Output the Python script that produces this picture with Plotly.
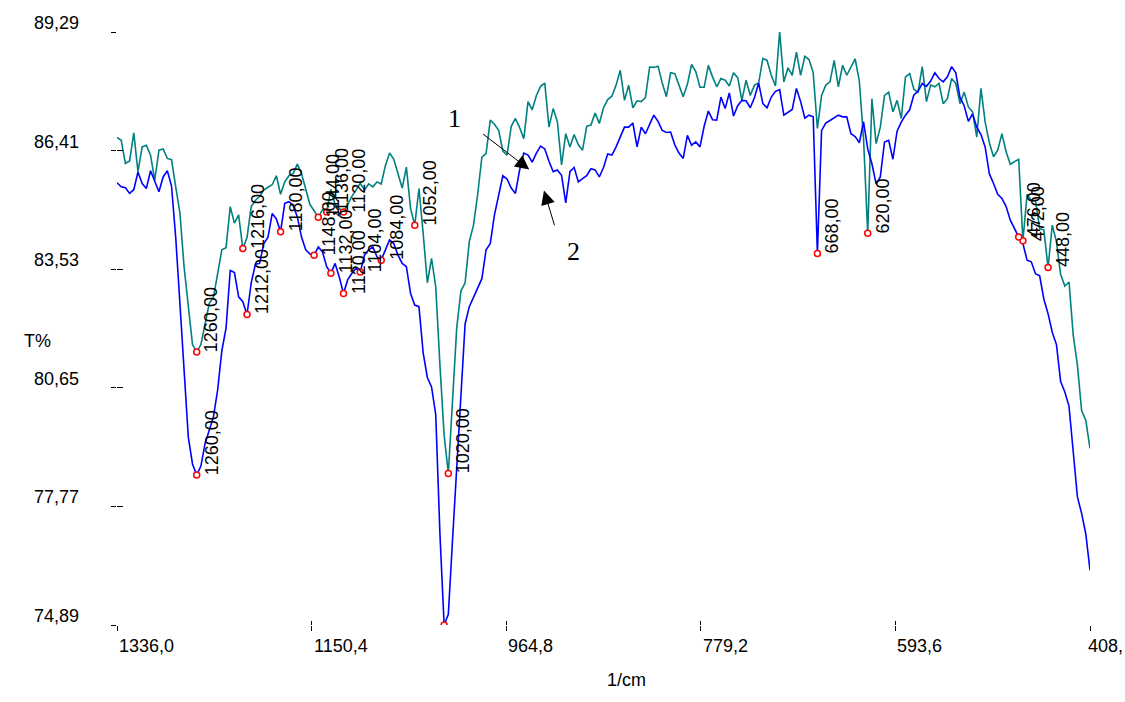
import plotly.graph_objects as go

# Wavenumber grid (1/cm), 4 cm-1 sampling from 1336 down to 408
wavenumber = list(range(1336, 407, -4))

# Spectrum 1 (teal), transmittance in %
t_sample1 = [
    86.73, 86.66, 86.10, 86.16, 86.84, 85.90, 86.50, 86.54, 86.30, 85.69,
    86.42, 86.45, 86.22, 86.19, 85.53, 84.90, 83.58, 82.60, 81.70, 81.52,
    81.70, 82.20, 82.70, 82.85, 83.40, 84.00, 84.05, 85.05, 84.65, 84.85,
    84.03, 84.30, 85.05, 85.20, 85.30, 85.45, 85.52, 85.58, 85.80, 85.35,
    85.65, 85.80, 85.85, 86.08, 85.85, 85.50, 85.10, 84.95, 84.79, 84.97,
    84.92, 85.47, 85.10, 85.00, 84.92, 85.10, 85.30, 85.45, 85.62, 85.45,
    85.60, 85.53, 85.65, 85.60, 86.05, 86.35, 86.20, 85.85, 85.50, 86.01,
    85.00, 84.60, 85.49, 84.40, 83.20, 83.79, 83.10, 81.20, 79.50, 78.57,
    80.30, 82.10, 83.00, 83.20, 84.20, 84.60, 85.35, 86.25, 86.34, 87.15,
    87.05, 86.90, 86.40, 86.30, 87.00, 87.19, 86.97, 86.70, 87.60, 87.40,
    87.75, 87.97, 88.05, 86.98, 87.43, 87.11, 86.06, 86.82, 86.50, 86.80,
    86.55, 86.42, 87.00, 87.03, 87.32, 87.07, 87.45, 87.65, 87.73, 88.00,
    88.36, 87.63, 88.00, 87.45, 87.62, 87.60, 87.70, 88.44, 88.43, 88.46,
    88.05, 87.72, 88.30, 88.28, 88.00, 87.72, 88.02, 88.50, 88.33, 87.95,
    87.95, 88.48, 88.20, 87.96, 88.16, 88.12, 87.98, 88.30, 88.18, 87.63,
    88.12, 87.75, 88.00, 88.05, 88.65, 88.60, 88.24, 87.98, 89.29, 88.08,
    88.42, 88.24, 88.80, 88.24, 88.70, 88.62, 88.30, 86.95, 87.75, 88.00,
    88.08, 88.60, 87.96, 88.48, 88.24, 88.45, 88.64, 88.10, 86.70, 84.40,
    87.67, 86.58, 86.98, 87.75, 87.83, 87.35, 87.63, 87.19, 88.20, 88.28,
    87.90, 87.83, 88.45, 87.60, 88.00, 87.96, 88.04, 87.55, 87.67, 88.16,
    88.04, 87.55, 87.83, 87.47, 87.35, 86.74, 87.92, 87.10, 86.60, 86.26,
    86.42, 86.82, 86.38, 86.08, 86.15, 86.20, 84.22, 85.35, 85.20, 85.20,
    84.52, 84.48, 83.57, 84.60, 84.20, 83.40, 83.12, 83.22, 81.93, 81.20,
    80.10, 79.86, 79.18,
]

# Spectrum 2 (blue), transmittance in %
t_sample2 = [
    85.63, 85.53, 85.51, 85.37, 85.46, 85.89, 85.61, 85.49, 85.92, 85.65,
    85.41, 85.77, 85.92, 85.55, 84.30, 82.70, 81.10, 79.45, 78.80, 78.53,
    78.75, 79.30, 79.62, 79.95, 80.60, 81.55, 82.10, 83.50, 83.45, 82.86,
    82.74, 82.43, 83.20, 83.65, 83.67, 84.15, 84.31, 84.88, 84.75, 84.44,
    85.13, 85.17, 85.08, 84.80, 84.31, 84.00, 83.90, 83.87, 84.07, 83.95,
    83.59, 83.43, 83.67, 83.34, 82.94, 83.27, 83.43, 83.55, 83.46, 83.87,
    84.00, 84.07, 83.83, 83.75, 84.00, 84.24, 84.15, 83.87, 83.67, 83.59,
    82.94, 82.66, 82.62, 81.50, 80.90, 80.67, 80.00, 77.10, 74.89, 75.15,
    76.95, 78.73, 80.40, 82.20, 82.62, 82.85, 83.05, 83.30, 84.00, 84.15,
    84.85, 85.30, 85.80, 85.72, 85.50, 85.37, 85.94, 86.35, 86.30, 86.13,
    86.35, 86.52, 86.45, 86.15, 85.90, 85.94, 85.81, 85.14, 85.90, 86.00,
    85.65, 85.73, 85.80, 85.97, 85.94, 85.77, 86.00, 86.33, 86.30, 86.50,
    86.75, 86.98, 86.98, 87.08, 86.50, 86.98, 86.82, 87.05, 87.27, 87.12,
    86.90, 86.85, 86.86, 86.55, 86.35, 86.22, 86.78, 86.54, 86.62, 86.50,
    87.00, 87.37, 87.16, 87.15, 87.71, 87.43, 87.81, 87.25, 87.50, 87.63,
    87.62, 87.45, 87.70, 88.05, 87.55, 87.45, 87.71, 87.85, 87.89, 87.27,
    87.35, 87.41, 87.92, 87.60, 87.20, 87.27, 87.23, 83.91, 86.90, 87.08,
    87.14, 87.20, 87.27, 87.23, 87.23, 86.82, 86.75, 86.60, 87.11, 86.45,
    86.09, 85.60, 85.77, 86.62, 86.66, 86.20, 86.88, 87.10, 87.27, 87.40,
    87.76, 87.85, 88.04, 87.97, 88.10, 88.30, 88.16, 88.08, 88.20, 88.45,
    88.30, 87.70, 87.50, 87.12, 87.30, 86.98, 86.80, 86.50, 85.85, 85.61,
    85.35, 85.25, 85.05, 84.72, 84.50, 84.31, 84.15, 83.75, 83.71, 83.42,
    83.37, 82.80, 82.45, 82.00, 81.70, 80.80, 80.55, 80.20, 79.10, 78.00,
    77.60, 77.10, 76.22,
]

assert len(t_sample1) == len(wavenumber) and len(t_sample2) == len(wavenumber)

# Picked peaks (wavenumber) and whether each gets a text label
peaks1 = [1260, 1216, 1144, 1136, 1120, 1052, 1020, 620, 472, 448]
peaks2 = [1260, 1212, 1180, 1148, 1132, 1120, 1104, 1084, 1024, 668, 476]
unlabelled2 = [1024]

# Axis ticks
x_ticks = [1336.0, 1150.4, 964.8, 779.2, 593.6, 408.0]
x_tick_text = ["1336,0", "1150,4", "964,8", "779,2", "593,6", "408,"]
y_ticks = [74.89, 77.77, 80.65, 83.53, 86.41, 89.29]
y_tick_text = ["74,89", "77,77", "80,65", "83,53", "86,41", "89,29"]

TEAL = "#008080"
BLUE = "#0000ff"
FONT = "Liberation Sans, Arial, sans-serif"
SERIF = "Liberation Serif, Times New Roman, serif"

lookup1 = dict(zip(wavenumber, t_sample1))
lookup2 = dict(zip(wavenumber, t_sample2))

fig = go.Figure()
fig.add_trace(go.Scatter(x=wavenumber, y=t_sample1, mode="lines",
                         line=dict(color=TEAL, width=1.6), hoverinfo="skip"))
fig.add_trace(go.Scatter(x=wavenumber, y=t_sample2, mode="lines",
                         line=dict(color=BLUE, width=1.6), hoverinfo="skip"))

marker_style = dict(symbol="circle", size=6, color="white",
                    line=dict(color="red", width=1.5))
fig.add_trace(go.Scatter(x=peaks1, y=[lookup1[p] for p in peaks1], mode="markers",
                         marker=marker_style, hoverinfo="skip"))
fig.add_trace(go.Scatter(x=peaks2, y=[lookup2[p] for p in peaks2], mode="markers",
                         marker=marker_style, hoverinfo="skip"))

# empty trace so the companion tick axes are instantiated
fig.add_trace(go.Scatter(x=[], y=[], xaxis="x2", yaxis="y2", mode="lines",
                         hoverinfo="skip", showlegend=False))

annotations = []

# Rotated peak labels, reading upward from each picked point
def peak_label(p, v):
    return dict(x=p, y=v, xref="x", yref="y", text=f"{p},00", textangle=-90,
                showarrow=False, xanchor="left", yanchor="bottom",
                xshift=3, yshift=-2, font=dict(family=FONT, size=18, color="black"))

for p in peaks1:
    annotations.append(peak_label(p, lookup1[p]))
for p in peaks2:
    if p not in unlabelled2:
        annotations.append(peak_label(p, lookup2[p]))

# Tick labels: x labels start at the tick, y labels sit just above their tick
for i, (v, t) in enumerate(zip(x_ticks, x_tick_text)):
    last = i == len(x_ticks) - 1
    annotations.append(dict(x=v, y=-0.0354, xref="x", yref="paper", text=t,
                            showarrow=False, xanchor="left", yanchor="middle",
                            xshift=-4 if last else 0,
                            font=dict(family=FONT, size=18, color="black")))
for v, t in zip(y_ticks, y_tick_text):
    annotations.append(dict(x=-0.037, y=v, xref="paper", yref="y", text=t,
                            showarrow=False, xanchor="right", yanchor="middle",
                            yshift=9, font=dict(family=FONT, size=18, color="black")))

# Axis titles
annotations.append(dict(x=0.524, y=-0.113, xref="paper", yref="paper", text="1/cm",
                        showarrow=False, font=dict(family=FONT, size=18, color="black")))
annotations.append(dict(x=-0.0976, y=0.479, xref="paper", yref="paper", text="T%",
                        showarrow=False, font=dict(family=FONT, size=18, color="black")))

# Curve markers "1" and "2" with pointer arrows
annotations.append(dict(x=942.8, y=85.95, ax=988.3, ay=86.84, xref="x", yref="y",
                        axref="x", ayref="y", text="", showarrow=True,
                        arrowhead=2, arrowsize=2.8, arrowwidth=1, arrowcolor="black"))
annotations.append(dict(x=928.8, y=85.44, ax=918.3, ay=84.56, xref="x", yref="y",
                        axref="x", ayref="y", text="", showarrow=True,
                        arrowhead=2, arrowsize=2.8, arrowwidth=1, arrowcolor="black"))
annotations.append(dict(x=1013.8, y=87.19, xref="x", yref="y", text="1",
                        showarrow=False, font=dict(family=SERIF, size=26, color="black")))
annotations.append(dict(x=900.2, y=83.97, xref="x", yref="y", text="2",
                        showarrow=False, font=dict(family=SERIF, size=26, color="black")))

axis_common = dict(showgrid=False, zeroline=False, showline=False,
                   showticklabels=False, tickmode="array",
                   tickcolor="black", tickwidth=1.2)

fig.update_layout(
    width=1125, height=702,
    margin=dict(l=117, r=35, t=32, b=77),
    paper_bgcolor="white", plot_bgcolor="white",
    showlegend=False,
    xaxis=dict(range=[1336, 408], tickvals=x_ticks, ticks="outside", ticklen=5, **axis_common),
    yaxis=dict(range=[74.89, 89.29], tickvals=y_ticks, ticks="outside", ticklen=5, **axis_common),
    # companion axes carry the inner half of each crossing tick
    xaxis2=dict(range=[1336, 408], tickvals=x_ticks, ticks="inside", ticklen=4,
                overlaying="x", anchor="y2", side="bottom", **axis_common),
    yaxis2=dict(range=[74.89, 89.29], tickvals=y_ticks, ticks="inside", ticklen=6,
                overlaying="y", anchor="x2", side="left", **axis_common),
    annotations=annotations,
)

fig.write_html("out.html")
